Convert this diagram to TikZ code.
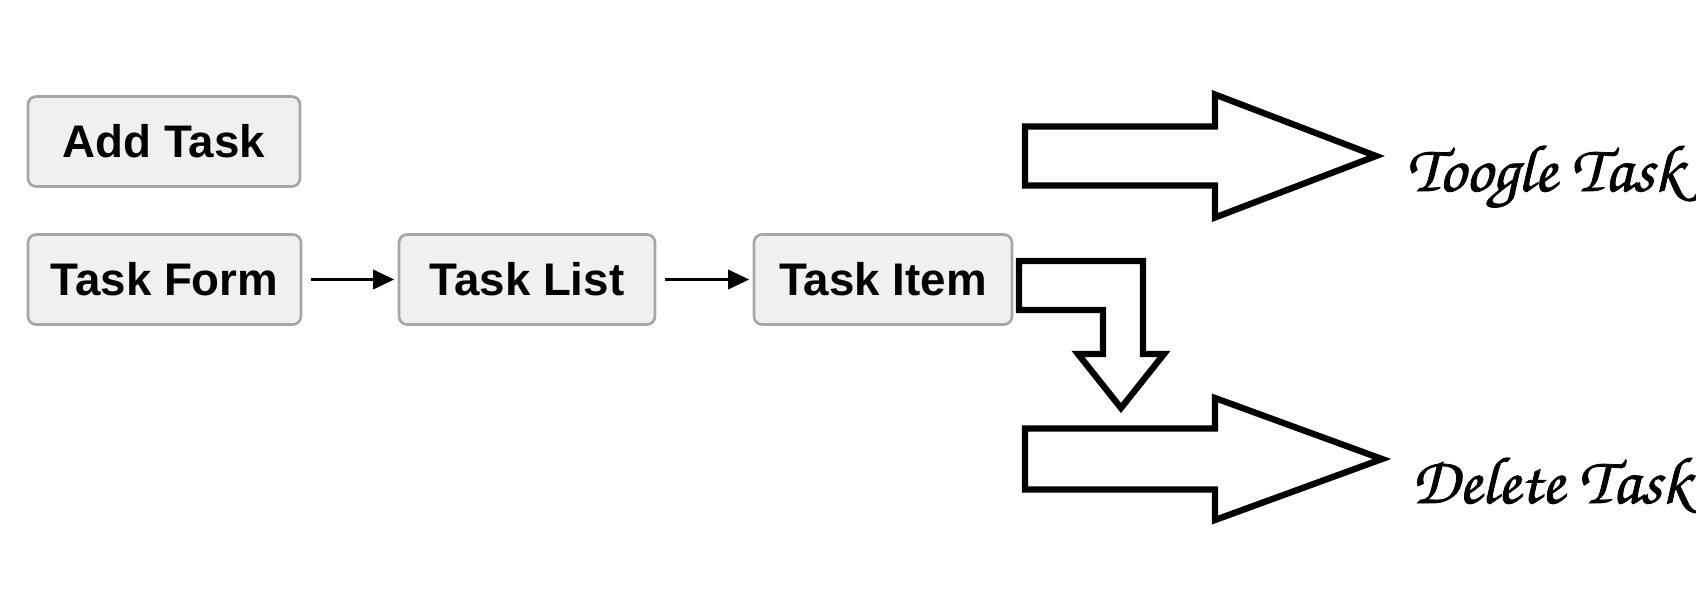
\documentclass[tikz,border=0pt]{standalone}
\usepackage{fontspec}
\setsansfont{Liberation Sans}
\newfontfamily\chorus{texgyrechorus-mediumitalic.otf}[FakeBold=1.2]
\usetikzlibrary{arrows.meta}

\begin{document}
\begin{tikzpicture}[
  box/.style={draw=gray!70, fill=gray!12, line width=0.75pt, rounded corners=2.3pt,
    minimum height=0.9cm, inner sep=0pt,
    font=\sffamily\bfseries\fontsize{13}{15}\selectfont},
  link/.style={-{Triangle[length=6pt,width=5.5pt]}, line width=0.8pt,
    shorten <=2.4pt, shorten >=1pt},
  blockarrow/.style={draw=black, fill=white, line width=1.8pt, line join=miter},
  action/.style={anchor=base west, inner sep=0pt, font=\chorus\fontsize{19}{23}\selectfont}
]
\useasboundingbox (0,0) rectangle (16.96,6.08);

% Components:
\node (add) [box, minimum width=2.72cm] at (1.64,4.665) {Add Task};
\node (form) [box, minimum width=2.73cm] at (1.645,3.285) {Task Form};
\node (list) [box, minimum width=2.56cm] at (5.27,3.285) {Task List};
\node (item) [box, minimum width=2.58cm] at (8.83,3.285) {Task Item};

\draw[link] (form) -- (list);
\draw[link] (list) -- (item);

% Block arrows:
\draw[blockarrow] (10.25,4.815) -- (12.15,4.815) -- (12.15,5.135) -- (13.76,4.52)
  -- (12.15,3.905) -- (12.15,4.225) -- (10.25,4.225) -- cycle;
\draw[blockarrow] (10.19,3.47) -- (11.43,3.47) -- (11.43,2.54) -- (11.64,2.54)
  -- (11.21,2.00) -- (10.78,2.54) -- (11.03,2.54) -- (11.03,2.98) -- (10.19,2.98) -- cycle;
\draw[blockarrow] (10.25,1.795) -- (12.15,1.795) -- (12.15,2.10) -- (13.82,1.49)
  -- (12.15,0.88) -- (12.15,1.185) -- (10.25,1.185) -- cycle;

\node (toggle) [action] at (14.06,4.17) {Toogle Task};
\node (delete) [action] at (14.11,1.05) {Delete Task};
\end{tikzpicture}
\end{document}
